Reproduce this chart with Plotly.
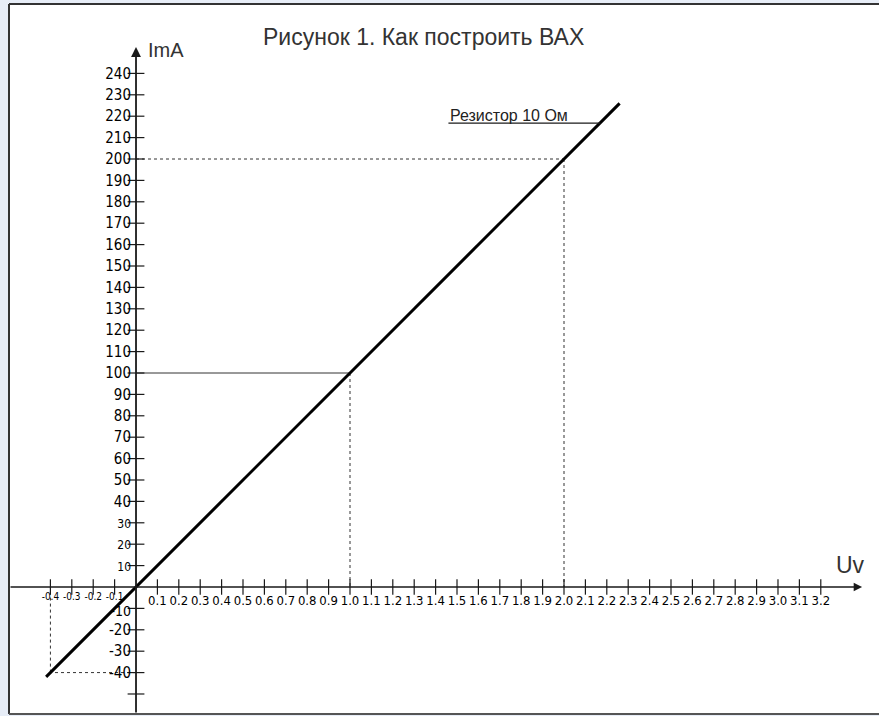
import plotly.graph_objects as go

# ---- data ----
voltage_line = [-0.42, 2.26]          # U, V
current_line = [-42, 226]             # I, mA  (R = 10 Ohm)

ref_voltage = [1.0, 2.0, -0.4]        # marked points
ref_current = [100, 200, -40]

x_tick_vals = [-0.4, -0.3, -0.2, -0.1, 0.1, 0.2, 0.3, 0.4, 0.5, 0.6, 0.7, 0.8, 0.9, 1.0,
               1.1, 1.2, 1.3, 1.4, 1.5, 1.6, 1.7, 1.8, 1.9, 2.0, 2.1, 2.2, 2.3, 2.4, 2.5,
               2.6, 2.7, 2.8, 2.9, 3.0, 3.1, 3.2]
x_tick_labels = ["-0.4", "-0.3", "-0.2", "-0.1", "0.1", "0.2", "0.3", "0.4", "0.5", "0.6",
                 "0.7", "0.8", "0.9", "1.0", "1.1", "1.2", "1.3", "1.4", "1.5", "1.6", "1.7",
                 "1.8", "1.9", "2.0", "2.1", "2.2", "2.3", "2.4", "2.5", "2.6", "2.7", "2.8",
                 "2.9", "3.0", "3.1", "3.2"]

y_tick_vals = [-50, -40, -30, -20, -10, 10, 20, 30, 40, 50, 60, 70, 80, 90, 100, 110, 120,
               130, 140, 150, 160, 170, 180, 190, 200, 210, 220, 230, 240]
y_tick_labels = ["", "-40", "-30", "-20", "-10", "10", "20", "30", "40", "50", "60", "70",
                 "80", "90", "100", "110", "120", "130", "140", "150", "160", "170", "180",
                 "190", "200", "210", "220", "230", "240"]

title_text = "Рисунок 1. Как построить ВАХ"
x_name = "Uv"
y_name = "ImA"
line_label = "Резистор 10 Ом"

# ---- styling helpers ----
INK = "#1a1a1a"
TICKFONT = "DejaVu Sans Condensed, Liberation Sans Narrow, sans-serif"
TEXTFONT = "Liberation Sans, Arial, sans-serif"

def styled(t, size, shift=0):
    extra = f";baseline-shift:{shift}px" if shift else ""
    return f'<span style="font-size:{size}px{extra}">{t}</span>'

x_ticktext = [styled(t, 10, 5) if t.startswith("-") else t for t in x_tick_labels]
y_ticktext = []
for t in y_tick_labels:
    if t in ("10", "20", "30"):
        y_ticktext.append(styled(t, 12))
    elif t == "-10":
        y_ticktext.append(styled(t, 14, -2))
    else:
        y_ticktext.append(t)

X_RANGE = [-0.5935, 3.472]
Y_RANGE = [-59.35, 272.43]

fig = go.Figure()

# reference (projection) lines
for u, i in zip(ref_voltage, ref_current):
    fig.add_trace(go.Scatter(x=[0, u], y=[i, i], mode="lines",
                             line=dict(color="#333", width=1,
                                       dash="solid" if i == 100 else "dot"),
                             hoverinfo="skip", showlegend=False))
    fig.add_trace(go.Scatter(x=[u, u], y=[i, 0], mode="lines",
                             line=dict(color="#333", width=1, dash="dot"),
                             hoverinfo="skip", showlegend=False))

# tick marks (crosses on the axes)
fig.add_trace(go.Scatter(x=x_tick_vals, y=[0] * len(x_tick_vals), mode="markers",
                         marker=dict(symbol="line-ns", size=11,
                                     line=dict(color=INK, width=1.2)),
                         hoverinfo="skip", showlegend=False))
fig.add_trace(go.Scatter(x=[0] * len(y_tick_vals), y=y_tick_vals, mode="markers",
                         marker=dict(symbol="line-ew", size=12,
                                     line=dict(color=INK, width=1.2)),
                         hoverinfo="skip", showlegend=False))

# V-I characteristic
fig.add_trace(go.Scatter(x=voltage_line, y=current_line, mode="lines",
                         line=dict(color="#000", width=3),
                         hoverinfo="skip", showlegend=False))

# leader line for label
fig.add_trace(go.Scatter(x=[1.46, 2.17], y=[216.8, 216.8], mode="lines",
                         line=dict(color=INK, width=1.3),
                         hoverinfo="skip", showlegend=False))

annotations = [
    # axes with arrows
    dict(x=3.393, y=0, ax=X_RANGE[0], ay=0, xref="x", yref="y", axref="x", ayref="y",
         showarrow=True, arrowhead=2, arrowsize=1.2, arrowwidth=1.4, arrowcolor=INK, text=""),
    dict(x=0, y=252.3, ax=0, ay=Y_RANGE[0], xref="x", yref="y", axref="x", ayref="y",
         showarrow=True, arrowhead=2, arrowsize=1.1, arrowwidth=1.8, arrowcolor=INK, text=""),
    dict(x=0.14, y=251, xref="x", yref="y", text=y_name, showarrow=False,
         font=dict(family=TEXTFONT, size=20, color="#333")),
    dict(x=3.341, y=10.3, xref="x", yref="y", text=x_name, showarrow=False,
         font=dict(family=TEXTFONT, size=23, color="#333")),
    dict(x=1.741, y=220.4, xref="x", yref="y", text=line_label, showarrow=False,
         font=dict(family=TEXTFONT, size=16, color="#222")),
    dict(x=419 / 879, y=1 - 33 / 716, xref="paper", yref="paper", text=title_text,
         showarrow=False, xanchor="center", yanchor="middle",
         font=dict(family=TEXTFONT, size=23, color="#333")),
]

shapes = [
    dict(type="line", xref="paper", yref="paper", x0=0, x1=1.01, y0=1, y1=1,
         line=dict(color="#333", width=2)),
    dict(type="line", xref="paper", yref="paper", x0=0, x1=0, y0=0, y1=1,
         line=dict(color="#333", width=2)),
    dict(type="line", xref="paper", yref="paper", x0=0, x1=1.01, y0=0, y1=0,
         line=dict(color="#555", width=2)),
]

fig.update_layout(
    width=879, height=716,
    margin=dict(l=9, r=0, t=4, b=2),
    paper_bgcolor="#e7edf7", plot_bgcolor="#ffffff",
    showlegend=False,
    annotations=annotations, shapes=shapes,
    xaxis=dict(range=X_RANGE, showgrid=False, zeroline=False, showline=False,
               tickmode="array", tickvals=x_tick_vals, ticktext=x_ticktext,
               ticks="", anchor="free", position=(714 - 587) / 710,
               ticklabelstandoff=4,
               tickfont=dict(family=TICKFONT, size=13, color="#000"), fixedrange=True),
    yaxis=dict(range=Y_RANGE, showgrid=False, zeroline=False, showline=False,
               tickmode="array", tickvals=y_tick_vals, ticktext=y_ticktext,
               ticks="", anchor="free", position=(136 - 9) / 870,
               ticklabelstandoff=5,
               tickfont=dict(family=TICKFONT, size=15, color="#000"), fixedrange=True),
)

fig.write_html("out.html", config={"displayModeBar": False},
               post_script="document.body.style.margin='0px';document.body.style.overflow='hidden';")
